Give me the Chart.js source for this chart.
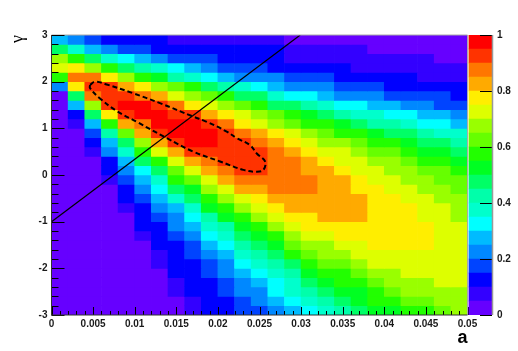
<!DOCTYPE html>
<html>
<head>
<meta charset="utf8">
<title>a vs gamma</title>
<script src="https://cdn.jsdelivr.net/npm/chart.js@4/dist/chart.umd.min.js"></script>
<style>
    body { margin: 0; background: #fff; }
    canvas { position: absolute; left: 0; top: 0; }
</style>
</head>
<body>
<canvas id="map" width="518" height="351"></canvas>
<canvas id="bar" width="518" height="351"></canvas>
<script>
// bin centres of the map
const aCenters = [0.001,0.003,0.005,0.007,0.009,0.011,0.013,0.015,0.017,0.019,0.021,0.023,0.025,
                  0.027,0.029,0.031,0.033,0.035,0.037,0.039,0.041,0.043,0.045,0.047,0.049];
const gammaLow = [2.8,2.6,2.4,2.2,2,1.8,1.6,1.4,1.2,1,0.8,0.6,0.4,0.2,0,
                  -0.2,-0.4,-0.6,-0.8,-1,-1.2,-1.4,-1.6,-1.8,-2,-2.2,-2.4,-2.6,-2.8,-3];
const gammaHigh = [3,2.8,2.6,2.4,2.2,2,1.8,1.6,1.4,1.2,1,0.8,0.6,0.4,0.2,
                   0,-0.2,-0.4,-0.6,-0.8,-1,-1.2,-1.4,-1.6,-1.8,-2,-2.2,-2.4,-2.6,-2.8];

// contour bin of every cell, one row per gamma bin, top row first
const zBins = [
  [5,4,3,2,2,2,2,1,1,1,1,1,1,1,0,0,0,0,0,0,0,0,0,0,0],
  [9,7,5,4,3,3,2,2,2,2,2,2,2,2,1,1,1,1,1,0,0,0,0,0,0],
  [13,11,9,7,6,5,4,3,3,3,2,2,2,2,1,1,1,1,1,1,1,1,1,0,0],
  [14,15,13,11,9,8,7,6,5,4,3,3,3,2,2,2,2,2,1,1,1,1,1,1,1],
  [11,17,17,15,13,11,10,8,7,6,5,4,4,4,3,3,3,2,2,2,2,2,1,1,1],
  [4,15,18,18,16,15,13,12,11,9,8,7,6,5,4,4,4,3,3,3,2,2,2,2,2],
  [0,9,17,18,18,17,16,14,13,12,11,9,9,7,6,6,5,4,4,4,3,3,3,3,2],
  [0,5,13,18,19,19,18,17,15,14,13,12,11,9,9,8,7,6,6,5,5,4,4,3,3],
  [0,2,9,15,18,19,19,18,18,16,15,14,13,12,11,10,9,8,7,7,6,6,5,5,4],
  [0,1,5,11,16,17,19,19,19,18,17,15,14,13,12,11,11,10,9,8,8,7,6,6,5],
  [0,0,3,8,12,16,18,19,19,19,18,17,16,15,14,13,12,11,11,10,9,9,8,7,7],
  [0,0,2,5,9,13,16,18,19,19,18,18,17,16,15,14,13,13,12,11,11,10,9,9,8],
  [0,0,1,4,7,11,14,16,18,18,18,18,18,17,16,15,14,14,13,12,12,11,10,10,9],
  [0,0,0,2,5,9,11,14,16,17,18,18,18,17,17,16,15,14,14,13,13,12,11,11,10],
  [0,0,0,2,4,6,9,12,14,16,17,18,18,17,17,16,16,15,14,14,13,13,12,12,11],
  [0,0,0,1,3,5,7,11,12,14,16,17,17,17,17,17,16,16,15,14,14,13,13,12,12],
  [0,0,0,0,2,4,6,9,10,13,14,16,16,17,17,17,16,16,15,15,14,14,13,13,12],
  [0,0,0,0,2,3,5,7,9,11,13,14,15,16,16,16,16,16,16,15,15,14,14,13,13],
  [0,0,0,0,1,2,4,5,7,10,11,13,14,15,16,16,16,16,16,15,15,15,14,14,13],
  [0,0,0,0,0,2,3,4,6,8,10,11,13,14,15,15,16,16,16,15,15,15,14,14,13],
  [0,0,0,0,0,2,2,4,5,7,8,10,11,13,14,15,15,15,15,15,15,15,15,14,14],
  [0,0,0,0,0,1,2,3,4,6,7,9,10,11,13,14,14,15,15,15,15,15,15,14,14],
  [0,0,0,0,0,0,2,2,3,5,6,8,9,10,12,13,13,14,14,15,15,15,15,14,14],
  [0,0,0,0,0,0,1,2,3,4,5,7,8,9,11,12,13,13,14,14,14,14,14,14,14],
  [0,0,0,0,0,0,1,2,2,3,4,6,7,8,9,11,12,12,13,14,14,14,14,14,14],
  [0,0,0,0,0,0,0,2,2,3,4,5,6,7,8,10,11,11,12,13,13,14,14,14,14],
  [0,0,0,0,0,0,0,1,2,2,3,4,5,6,7,9,10,11,11,12,13,13,13,14,14],
  [0,0,0,0,0,0,0,1,2,2,3,4,4,6,7,8,9,10,10,11,12,13,13,13,13],
  [0,0,0,0,0,0,0,0,1,2,2,3,4,5,6,7,8,9,10,11,11,12,12,13,13],
  [0,0,0,0,0,0,0,0,1,2,2,3,3,4,5,6,7,8,9,10,10,11,11,12,13]
];

// z range of each contour bin, and its colour
const zLow = [0,0.05,0.1,0.15,0.2,0.25,0.3,0.35,0.4,0.45,0.5,0.55,0.6,0.65,0.7,0.75,0.8,0.85,0.9,0.95];
const zHigh = [0.05,0.1,0.15,0.2,0.25,0.3,0.35,0.4,0.45,0.5,0.55,0.6,0.65,0.7,0.75,0.8,0.85,0.9,0.95,1];
const palette = ['#6600ff','#3300ff','#0000ff','#0044ff','#0088ff','#00bbff','#00ffff','#00ffcc','#00ffaa','#00ff66',
                 '#00ff22','#22ff00','#66ff00','#99ff00','#ddff00','#ffee00','#ffaa00','#ff7700','#ff3300','#ff0000'];

// straight line
const lineA = [0, 0.0299];
const lineGamma = [-1, 3];

// dashed contour
const contourA = [0.00463,0.00523,0.00664,0.00983,0.01304,0.01705,0.01866,0.02106,0.02226,0.02386,0.02467,0.02567,
                  0.02546,0.02467,0.02306,0.02026,0.01705,0.01385,0.01024,0.00784,0.00583,0.00463,0.00463];
const contourGamma = [1.93,2.00,1.94,1.75,1.54,1.25,1.14,0.93,0.79,0.64,0.46,0.29,
                      0.11,0.07,0.11,0.29,0.50,0.79,1.14,1.37,1.64,1.86,1.93];

// tick labels
const xTickLabels = ['0','0.005','0.01','0.015','0.02','0.025','0.03','0.035','0.04','0.045','0.05'];
const yTickLabels = ['-3','-2','-1','0','1','2','3'];
const barTickLabels = ['0','0.2','0.4','0.6','0.8','1'];

const tickFont = { family: '"Liberation Sans", Arial, sans-serif', size: 10, weight: 'bold' };
const tickColor = '#1a1a1a';

function mark(ctx, x1, y1, x2, y2, color, width) {
    ctx.strokeStyle = color;
    ctx.lineWidth = width;
    ctx.beginPath();
    ctx.moveTo(x1, y1);
    ctx.lineTo(x2, y2);
    ctx.stroke();
}

// ticks sit inside the frame, drawn on top of the cells
const mapTicks = {
    id: 'mapTicks',
    afterDatasetsDraw(chart) {
        const { ctx, chartArea: area, scales: { x, y } } = chart;
        ctx.save();
        mark(ctx, area.left, area.top, area.right, area.top, '#a8a8a8', 1);
        mark(ctx, area.right, area.top, area.right, area.bottom, '#a8a8a8', 1);
        x.ticks.forEach((t, i) => {
            const px = Math.round(x.getPixelForValue(t.value)) + 0.5;
            mark(ctx, px, area.bottom, px, area.bottom - (i % 5 === 0 ? 8 : 4), '#000', 1);
        });
        y.ticks.forEach((t, i) => {
            const py = Math.round(y.getPixelForValue(t.value)) + 0.5;
            mark(ctx, area.left, py, area.left + (i % 5 === 0 ? 13 : 7), py, '#000', 1);
        });
        mark(ctx, area.left, area.top, area.left, area.bottom, '#333', 1);
        mark(ctx, area.left, area.bottom, area.right, area.bottom, '#333', 1);
        ctx.restore();
    }
};

const barTicks = {
    id: 'barTicks',
    afterDatasetsDraw(chart) {
        const { ctx, chartArea: area, scales: { y } } = chart;
        ctx.save();
        y.ticks.forEach(t => {
            const py = Math.round(y.getPixelForValue(t.value)) + 0.5;
            mark(ctx, area.right - 12, py, area.right, py, '#000', 1);
        });
        mark(ctx, area.right + 0.5, area.top, area.right + 0.5, area.bottom, '#999', 1.5);
        ctx.restore();
    }
};

const cellSets = zBins.map((row, r) => ({
    type: 'bar',
    data: row.map((bin, c) => ({ x: aCenters[c], y: [gammaLow[r], gammaHigh[r]] })),
    backgroundColor: row.map(bin => palette[bin]),
    borderWidth: 0,
    barThickness: 16.64,
    grouped: false,
    order: 2
}));

new Chart(document.getElementById('map'), {
    type: 'bar',
    data: {
        datasets: cellSets.concat([
            {
                type: 'line',
                data: lineA.map((a, i) => ({ x: a, y: lineGamma[i] })),
                borderColor: '#000',
                borderWidth: 1.2,
                pointRadius: 0,
                order: 1
            },
            {
                type: 'line',
                data: contourA.map((a, i) => ({ x: a, y: contourGamma[i] })),
                borderColor: '#000',
                borderWidth: 2,
                borderDash: [5, 3],
                tension: 0.4,
                pointRadius: 0,
                order: 0
            }
        ])
    },
    options: {
        responsive: false,
        animation: false,
        layout: { padding: { top: 35, right: 50.5, bottom: 0, left: 0 } },
        plugins: { legend: { display: false }, tooltip: { enabled: false } },
        scales: {
            x: {
                type: 'linear',
                offset: false,
                min: 0,
                max: 0.05,
                afterFit: s => { s.height = 36; },
                grid: { display: false, drawTicks: false },
                border: { display: false },
                ticks: {
                    stepSize: 0.001,
                    autoSkip: false,
                    maxRotation: 0,
                    padding: 3,
                    font: tickFont,
                    color: tickColor,
                    callback: (v, i) => (i % 5 === 0 ? xTickLabels[i / 5] : '')
                },
                title: {
                    display: true,
                    text: 'a',
                    align: 'end',
                    color: '#000',
                    font: { family: '"Liberation Sans", Arial, sans-serif', size: 18, weight: 'bold' },
                    padding: { top: 0, bottom: 2 }
                }
            },
            y: {
                min: -3,
                max: 3,
                afterFit: s => { s.width = 51.5; },
                grid: { display: false, drawTicks: false },
                border: { display: false },
                ticks: {
                    stepSize: 0.2,
                    autoSkip: false,
                    padding: 4,
                    font: tickFont,
                    color: tickColor,
                    callback: (v, i) => (i % 5 === 0 ? yTickLabels[i / 5] : '')
                },
                title: {
                    display: true,
                    text: 'γ',
                    align: 'end',
                    color: '#000',
                    font: { family: '"Liberation Serif", serif', size: 18 },
                    padding: { top: 7, bottom: 0 }
                }
            }
        }
    },
    plugins: [mapTicks]
});

// colour scale, same height as the map, its own canvas on top
new Chart(document.getElementById('bar'), {
    type: 'bar',
    data: {
        labels: ['z'],
        datasets: palette.map((color, k) => ({
            data: [[zLow[k], zHigh[k]]],
            backgroundColor: color,
            borderWidth: 0,
            barPercentage: 1,
            categoryPercentage: 1,
            grouped: false
        }))
    },
    options: {
        responsive: false,
        animation: false,
        layout: { padding: { top: 35, right: 0, bottom: 36, left: 468.5 } },
        plugins: { legend: { display: false }, tooltip: { enabled: false } },
        scales: {
            x: { display: false },
            y: {
                position: 'right',
                min: 0,
                max: 1,
                afterFit: s => { s.width = 26; },
                grid: { display: false, drawTicks: false },
                border: { display: false },
                ticks: {
                    stepSize: 0.2,
                    padding: 5,
                    font: tickFont,
                    color: tickColor,
                    callback: (v, i) => barTickLabels[i]
                }
            }
        }
    },
    plugins: [barTicks]
});
</script>
</body>
</html>
